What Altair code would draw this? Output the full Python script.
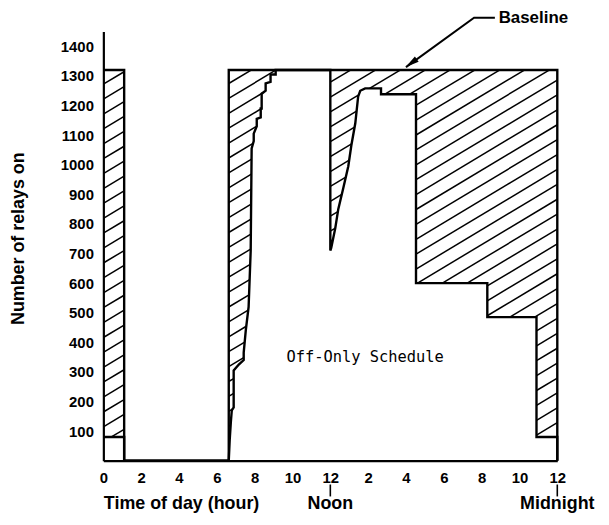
import altair as alt
import numpy as np
import pandas as pd

# ---- data ----
# number of relays on under the off-only schedule (step curve)
hours = [0, 1.1, 1.1, 6.63,
         6.68, 6.74, 6.79, 6.89, 6.89, 7.16, 7.42, 7.42, 7.53, 7.68,
         7.79, 7.84, 7.95, 7.95, 8.11, 8.11, 8.32, 8.32, 8.37, 8.37,
         8.58, 8.58, 8.84, 8.84, 9.11, 9.11,
         12.0, 12.0, 12.05, 12.26, 12.42, 12.68, 12.95, 13.11, 13.32,
         13.47, 13.58, 13.84, 14.68, 14.68, 16.53, 16.53, 20.3, 20.3,
         22.9, 22.9, 24, 24]
relays = [80, 80, 0, 0,
          70, 130, 170, 180, 305, 325, 340, 365, 440, 520,
          710, 1055, 1080, 1105, 1130, 1155, 1160, 1190, 1190, 1240,
          1250, 1275, 1280, 1305, 1305, 1320,
          1320, 710, 720, 785, 850, 920, 995, 1065, 1140,
          1230, 1250, 1258, 1258, 1238, 1238, 600, 600, 485, 485,
          80, 80, 0]

# baseline (all relays on while lighting is scheduled)
base_hours = [0, 1.1, 1.1, 6.63, 6.63, 24, 24]
base_relays = [1320, 1320, 0, 0, 1320, 1320, 0]

x_ticks = list(range(0, 25, 2))
y_ticks = list(range(100, 1500, 100))

# annotation arrow for "Baseline"
arrow_hours = [20.7, 19.6, 16.0]
arrow_relays = [1497, 1497, 1330]

# ---- geometry ----
W, H = 457, 432
XMAX, YMAX = 24, 1450
px_t = W / XMAX
px_v = H / YMAX

# ---- hatch lines clipped between actual curve and baseline ----
slope = 0.6      # pixel slope of hatch lines
spacing = 15.0   # vertical pixel spacing
xs = np.arange(0.05, W, 0.1)
ts = xs / px_t
act = np.interp(ts, hours, relays)
base = np.interp(ts, base_hours[:-1], base_relays[:-1])
segs = []
for k in range(-30, 40):
    b = k * spacing + 4
    v_line = (b + slope * xs) / px_v
    inside = (v_line >= act) & (v_line <= base)
    if not inside.any():
        continue
    d = np.diff(np.concatenate([[0], inside.astype(int), [0]]))
    starts = np.where(d == 1)[0]
    ends = np.where(d == -1)[0] - 1
    for s, e in zip(starts, ends):
        x0 = max(xs[s] - 0.05, 0)
        x1 = min(xs[e] + 0.05, W)
        if x1 - x0 < 0.5:
            continue
        segs.append({"t1": x0 / px_t, "v1": (b + slope * x0) / px_v,
                     "t2": x1 / px_t, "v2": (b + slope * x1) / px_v})
hatch_df = pd.DataFrame(segs)

actual_df = pd.DataFrame({"h": hours, "r": relays, "i": range(len(hours))})
base_df = pd.DataFrame({"h": base_hours, "r": base_relays, "i": range(len(base_hours))})
arrow_df = pd.DataFrame({"h": arrow_hours, "r": arrow_relays, "i": range(len(arrow_hours))})

xscale = alt.Scale(domain=[0, XMAX], nice=False, zero=False)
yscale = alt.Scale(domain=[0, YMAX], nice=False)

FONT = "Liberation Sans"

xaxis = alt.Axis(values=x_ticks, labelExpr="datum.value > 12 ? datum.value - 12 : datum.value",
                 ticks=False, grid=False, domainWidth=2.2, domainColor="black",
                 labelFont=FONT, labelFontWeight="bold", labelFontSize=15, labelColor="black",
                 labelPadding=10, labelFlush=False, labelOverlap=False, labelBound=False,
                 title="Time of day (hour)", titleFont=FONT, titleFontWeight="bold",
                 titleFontSize=18, titleColor="black", titleAlign="left", titleAnchor="start",
                 titleX=0, titleY=48, titleBaseline="alphabetic", zindex=1)
yaxis = alt.Axis(values=y_ticks, format="d", ticks=False, grid=False, domainWidth=2.2,
                 domainColor="black",
                 labelFont=FONT, labelFontWeight="bold", labelFontSize=15, labelColor="black",
                 labelPadding=10, labelOverlap=False, labelFlush=False,
                 title="Number of relays on", titleFont=FONT, titleFontWeight="bold",
                 titleFontSize=18, titleColor="black", titleX=-80, titleY=208,
                 titleBaseline="alphabetic", zindex=1)


def X(field):
    return alt.X(field, scale=xscale, axis=xaxis)


def Y(field):
    return alt.Y(field, scale=yscale, axis=yaxis)


hatch = alt.Chart(hatch_df).mark_rule(color="black", strokeWidth=1.5).encode(
    x=X("t1:Q"), y=Y("v1:Q"), x2="t2:Q", y2="v2:Q")

base_line = alt.Chart(base_df).mark_line(color="black", strokeWidth=2.4, strokeJoin="miter").encode(
    x=X("h:Q"), y=Y("r:Q"), order="i:Q")

actual_line = alt.Chart(actual_df).mark_line(color="black", strokeWidth=2.4, strokeJoin="miter").encode(
    x=X("h:Q"), y=Y("r:Q"), order="i:Q")

sched_text = alt.Chart(pd.DataFrame({"h": [13.84], "r": [349], "t": ["Off-Only Schedule"]})).mark_text(
    font="DejaVu Sans Mono", fontSize=15.5, color="black", align="center", baseline="middle").encode(
    x=X("h:Q"), y=Y("r:Q"), text="t:N")

marks_df = pd.DataFrame({"h": [12, 24], "t": ["Noon", "Midnight"]})
mark_ticks = alt.Chart(marks_df).mark_rule(color="black", strokeWidth=1.6).encode(
    x=X("h:Q"), y=alt.value(456), y2=alt.value(468))
mark_text = alt.Chart(marks_df).mark_text(
    font=FONT, fontWeight="bold", fontSize=18, color="black", align="center", baseline="middle").encode(
    x=X("h:Q"), y=alt.value(476), text="t:N")

arrow = alt.Chart(arrow_df).mark_line(color="black", strokeWidth=2).encode(
    x=X("h:Q"), y=Y("r:Q"), order="i:Q")
arrow_head = alt.Chart(pd.DataFrame({"h": [16.27], "r": [1343]})).mark_point(
    shape="M0,-1L0.45,1L-0.45,1Z", filled=True, color="black", opacity=1, size=200, angle=234).encode(
    x=X("h:Q"), y=Y("r:Q"))
base_label = alt.Chart(pd.DataFrame({"h": [20.9], "t": ["Baseline"]})).mark_text(
    font=FONT, fontWeight="bold", fontSize=17, color="black", align="left", baseline="middle").encode(
    x=X("h:Q"), y=alt.value(-14), text="t:N")

chart = alt.layer(hatch, base_line, actual_line, sched_text, mark_ticks, mark_text,
                  arrow, arrow_head, base_label).properties(
    width=W, height=H,
    autosize=alt.AutoSizeParams(type="none"),
    padding={"left": 96, "top": 22, "right": 44, "bottom": 60},
    background="white",
).configure_view(stroke=None).configure_axis(labelOverlap=False, labelFlush=False)

chart.save("out.html", embed_options={"renderer": "svg", "actions": False})
